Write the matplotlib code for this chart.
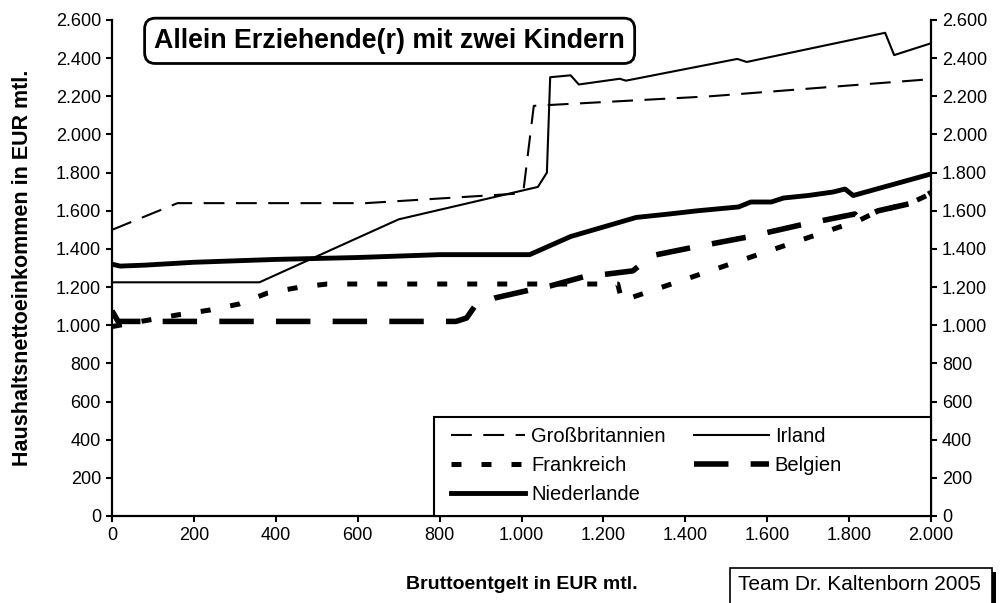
import matplotlib
matplotlib.use("Agg")
import matplotlib.pyplot as plt
from matplotlib.patches import Rectangle
from matplotlib.ticker import FuncFormatter, MultipleLocator

plt.rcParams['font.family'] = ['Liberation Sans', 'DejaVu Sans']

# Daten (Bruttoentgelt -> Haushaltsnettoeinkommen)
gb_x = [0, 160, 620, 990, 1005, 1030, 1460, 2000]
gb_y = [1500, 1640, 1640, 1690, 1710, 2150, 2200, 2290]

irl_x = [0, 360, 700, 1040, 1062, 1070, 1120, 1140, 1240, 1255, 1527, 1550, 1888, 1910, 2000]
irl_y = [1225, 1225, 1555, 1725, 1800, 2300, 2310, 2262, 2292, 2282, 2396, 2380, 2533, 2416, 2478]

fr_x = [0, 160, 240, 310, 380, 460, 525, 1235, 1245, 1826, 1870, 1950, 2000]
fr_y = [993, 1054, 1080, 1111, 1169, 1200, 1216, 1216, 1128, 1551, 1598, 1640, 1690]

be_x = [0, 15, 840, 866, 886, 935, 1021, 1070, 1150, 1208, 1272, 1287, 1326, 1411,
        1551, 1680, 1814, 1826, 1871, 1956, 2000]
be_y = [1075, 1020, 1020, 1038, 1100, 1143, 1185, 1206, 1253, 1268, 1285, 1311, 1368, 1405,
        1462, 1525, 1583, 1556, 1600, 1641, 1695]

nl_x = [0, 20, 80, 200, 400, 600, 800, 1020, 1120, 1280, 1360, 1430, 1530, 1560, 1610,
        1640, 1700, 1760, 1790, 1810, 2000]
nl_y = [1320, 1310, 1315, 1330, 1345, 1355, 1370, 1370, 1465, 1565, 1583, 1600, 1620, 1646,
        1646, 1667, 1680, 1698, 1714, 1680, 1793]

fig = plt.figure(figsize=(10.04, 6.03), dpi=100)
ax = fig.add_axes([112 / 1004, 1 - 516 / 603, 819 / 1004, 496 / 603])

l_gb, = ax.plot(gb_x, gb_y, color='black', lw=1.5, dashes=(10, 5.5), label='Großbritannien')
l_irl, = ax.plot(irl_x, irl_y, color='black', lw=1.5, label='Irland')
l_fr, = ax.plot(fr_x, fr_y, color='black', lw=3.6, dashes=(2, 4), label='Frankreich')
l_be, = ax.plot(be_x, be_y, color='black', lw=4, dashes=(6.2, 4), label='Belgien')
l_nl, = ax.plot(nl_x, nl_y, color='black', lw=3.5, label='Niederlande')

ax.set_xlim(0, 2000)
ax.set_ylim(0, 2600)
ax.xaxis.set_major_locator(MultipleLocator(200))
ax.yaxis.set_major_locator(MultipleLocator(200))
fmt = FuncFormatter(lambda v, p: '{:,.0f}'.format(v).replace(',', '.'))
ax.xaxis.set_major_formatter(fmt)
ax.yaxis.set_major_formatter(fmt)
ax.tick_params(axis='both', direction='out', length=4.5, width=1.5, labelsize=13)
ax.tick_params(axis='y', right=True, labelright=True)
ax.spines['top'].set_visible(False)
for s in ['left', 'right', 'bottom']:
    ax.spines[s].set_linewidth(1.6)

ax.set_xlabel('Bruttoentgelt in EUR mtl.', fontsize=14, fontweight='bold', labelpad=23)
ax.set_ylabel('Haushaltsnettoeinkommen in EUR mtl.', fontsize=15.5, fontweight='bold', labelpad=16)

# Legende
x0 = (434 - 112) / 819
y1 = (516 - 417) / 496
ax.add_patch(Rectangle((x0, 0), 1 - x0, y1, transform=ax.transAxes, facecolor='white',
                       edgecolor='black', lw=1.5, zorder=5, clip_on=False))
leg = ax.legend([l_gb, l_fr, l_nl, l_irl, l_be],
                ['Großbritannien', 'Frankreich', 'Niederlande', 'Irland', 'Belgien'],
                ncol=2, loc='upper left', bbox_to_anchor=(x0 + 0.001, y1 + 0.012),
                frameon=False, fontsize=14.5, handlelength=3.7, handletextpad=0.3,
                columnspacing=1.4, labelspacing=0.5, borderpad=0.3)
leg.set_zorder(6)

# Titel
ax.text(0.339, 0.958, 'Allein Erziehende(r) mit zwei Kindern', transform=ax.transAxes,
        ha='center', va='center', fontsize=19.3, fontweight='bold', zorder=7,
        bbox=dict(boxstyle='round,pad=0.36,rounding_size=0.4', facecolor='white',
                  edgecolor='black', lw=2))

# Quelle mit Schatten
fig.patches.append(Rectangle((734 / 1004, -0.05), 262 / 1004, (603 - 572) / 603 + 0.05,
                             transform=fig.transFigure, facecolor='black', edgecolor='none'))
fig.patches.append(Rectangle((730 / 1004, -0.05), 262 / 1004, (603 - 568) / 603 + 0.05,
                             transform=fig.transFigure, facecolor='white', edgecolor='black',
                             lw=1.2))
fig.text(738 / 1004, 1 - 584 / 603, 'Team Dr. Kaltenborn 2005', fontsize=15,
         ha='left', va='center')

fig.savefig('out.png', dpi=100)
